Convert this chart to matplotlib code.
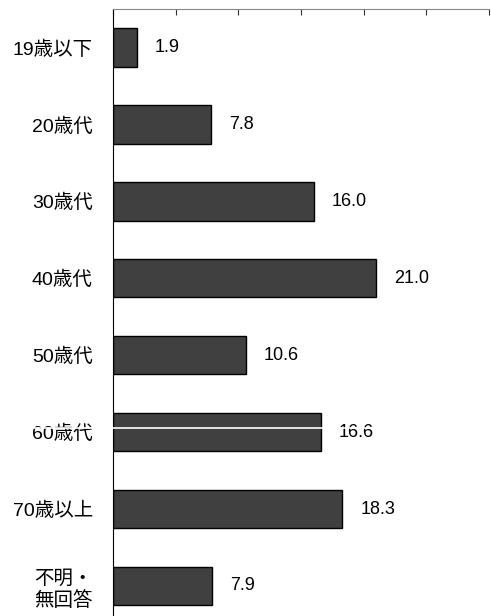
import matplotlib.pyplot as plt
from matplotlib.lines import Line2D

plt.rcParams['font.family'] = ['Liberation Sans', 'Noto Sans CJK JP', 'DejaVu Sans']

categories = ['19歳以下', '20歳代', '30歳代', '40歳代', '50歳代', '60歳代', '70歳以上', '不明・\n無回答']
values = [1.9, 7.8, 16.0, 21.0, 10.6, 16.6, 18.3, 7.9]


def main():
    fig = plt.figure(figsize=(4.91, 6.16), dpi=100)
    ax = fig.add_axes([113 / 491, 0, 376 / 491, 1 - 9 / 616])

    pos = list(range(len(categories)))
    ax.barh(pos, values, height=0.5, color='#404040', edgecolor='black', linewidth=1.0)

    for p, v in zip(pos, values):
        ax.annotate(f'{v:.1f}', xy=(v, p), xytext=(13, 0), textcoords='offset points',
                    va='center', ha='left', fontsize=13)

    ax.set_xlim(0, 30)
    ax.set_xticks(range(0, 31, 5))
    ax.set_ylim(7.39, -0.5)
    ax.set_yticks(pos)
    ax.set_yticklabels(categories, fontsize=14, multialignment='center', linespacing=1.25)

    ax.xaxis.tick_top()
    ax.tick_params(axis='x', direction='in', length=4, labeltop=False, color='#333333')
    ax.tick_params(axis='y', left=False, pad=11)

    ax.spines['right'].set_visible(False)
    ax.spines['bottom'].set_visible(False)
    ax.spines['top'].set_color('#888888')
    ax.spines['left'].set_color('black')

    # weisse Linie quer durch die Zeile 60歳代 (wie im Original)
    y_line = 1 - 427.5 / 616
    fig.add_artist(Line2D([0, 1], [y_line, y_line], color='white', linewidth=1.2, zorder=10))

    plt.savefig('out.png', dpi=100)
    plt.close()


if __name__ == '__main__':
    main()
